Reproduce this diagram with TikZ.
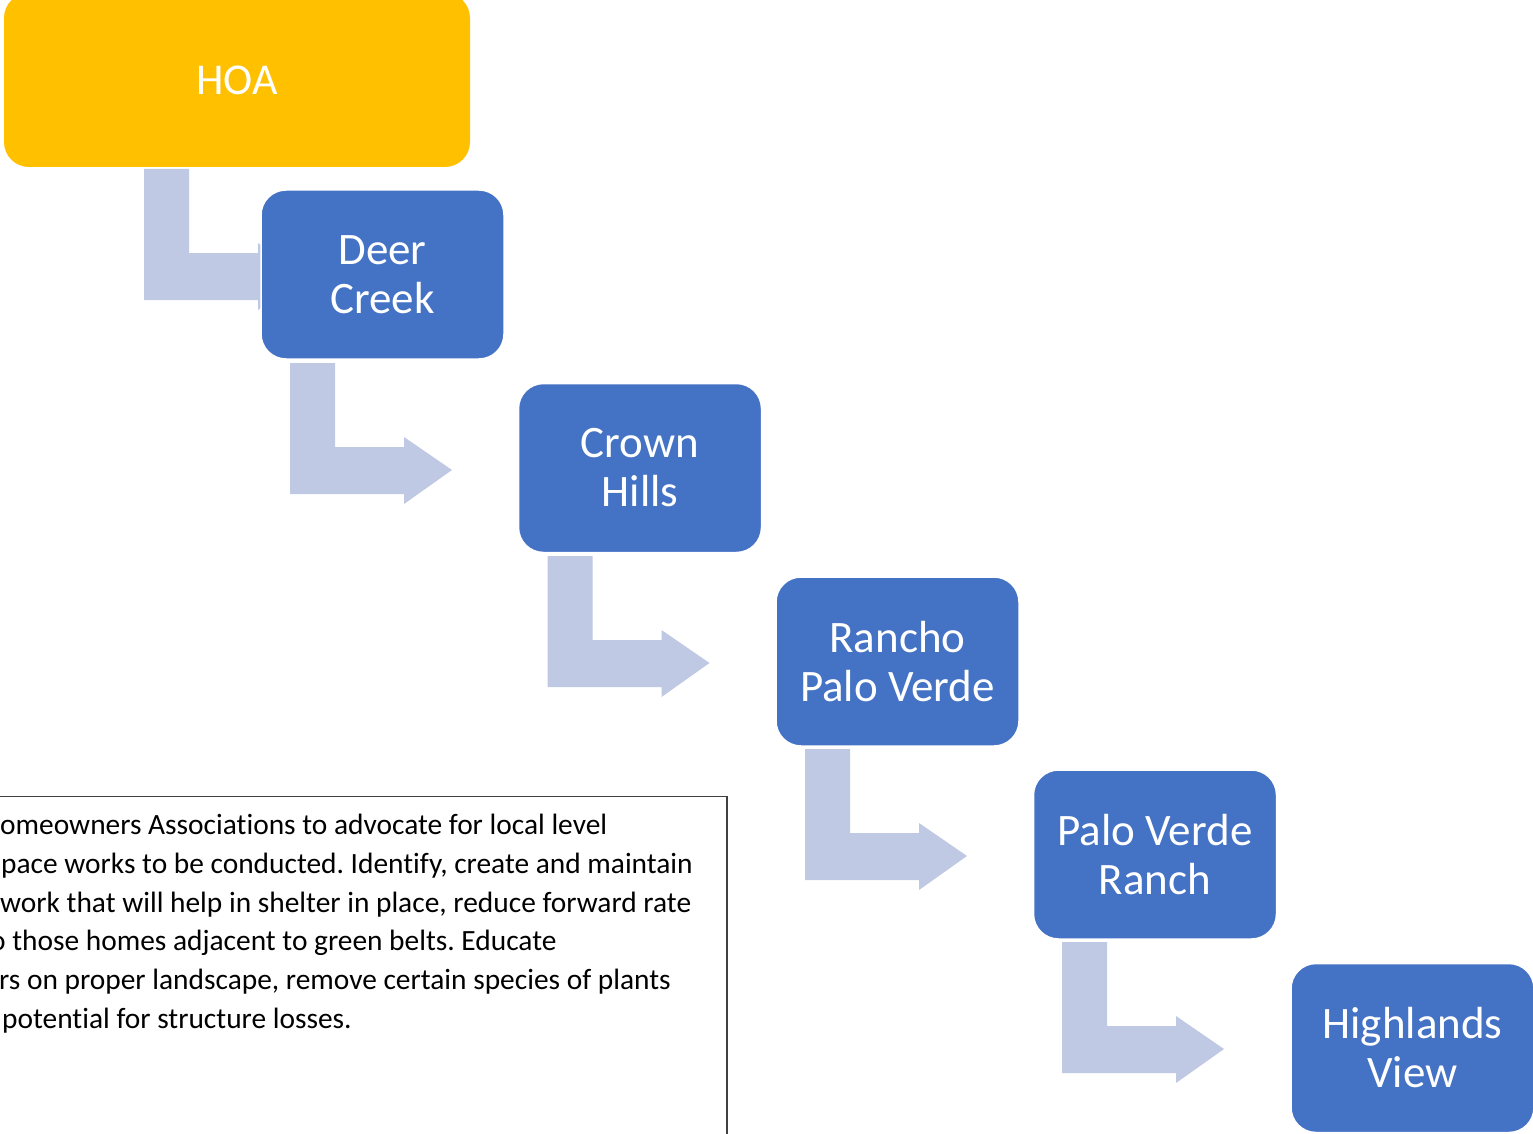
\documentclass[tikz,border=0pt]{standalone}
\usepackage{fontspec}
\setmainfont[Ligatures=NoCommon]{Carlito}
\frenchspacing
\definecolor{hoagold}{RGB}{255,192,0}
\definecolor{boxblue}{RGB}{68,114,196}
\definecolor{elbowfill}{RGB}{191,201,227}
\definecolor{frameline}{RGB}{64,64,64}
\newcommand{\myelbow}[2]{%
  \fill[elbowfill] (#1,#2) -- ++(45,0) -- ++(0,84) -- ++(69,0) -- ++(0,-10)
    -- ++(48,33) -- ++(-48,34) -- ++(0,-10) -- ++(-114,0) -- cycle;}
\tikzset{
  stagebox/.style={rounded corners=25pt, fill=boxblue, draw=white, line width=1.5pt,
    text=white, align=center, inner sep=0pt, minimum width=243pt, minimum height=169pt,
    font=\fontsize{45}{49}\selectfont},
  hoabox/.style={rounded corners=25pt, fill=hoagold, draw=none,
    text=white, align=center, inner sep=0pt, minimum width=466pt, minimum height=174pt,
    font=\fontsize{44}{49}\selectfont},
  noteline/.style={anchor=base west, inner sep=0pt, font=\fontsize{29.4}{38.8}\selectfont, text=black}
}
\begin{document}
\begin{tikzpicture}[x=1pt,y=-1pt]
\useasboundingbox (0,0) rectangle (1533,1134);
\fill[white] (0,0) rectangle (1533,1134);
% elbow arrows (drawn first, boxes cover heads)
\myelbow{144}{169}
\myelbow{290}{363}
\myelbow{547.5}{556}
\myelbow{805}{749}
\myelbow{1062}{942}
% boxes
\node[hoabox] (hoa) at (237,80) {HOA};
\node[stagebox] (deer) at (382.5,274.5) {Deer\\Creek};
\node[stagebox] (crown) at (640,468) {Crown\\Hills};
\node[stagebox] (rancho) at (897.5,661.5) {Rancho\\Palo Verde};
\node[stagebox] (pvranch) at (1155,854.5) {Palo Verde\\Ranch};
\node[stagebox] (highlands) at (1412.5,1048) {Highlands\\View};
% note box
\draw[frameline, line width=1.5pt] (-20,1150) -- (-20,796.5) -- (727,796.5) -- (727,1150);
\node[noteline] (n1) at (0,834) {omeowners Associations to advocate for local level};
\node[noteline] (n2) at (1,873) {pace works to be conducted. Identify, create and maintain};
\node[noteline] (n3) at (0,912) {work that will help in shelter in place, reduce forward rate};
\node[noteline] (n4) at (-10,950) {o those homes adjacent to green belts. Educate};
\node[noteline] (n5) at (-1,989) {rs on proper landscape, remove certain species of plants};
\node[noteline] (n6) at (2,1028) {potential for structure losses.};
\end{tikzpicture}
\end{document}
